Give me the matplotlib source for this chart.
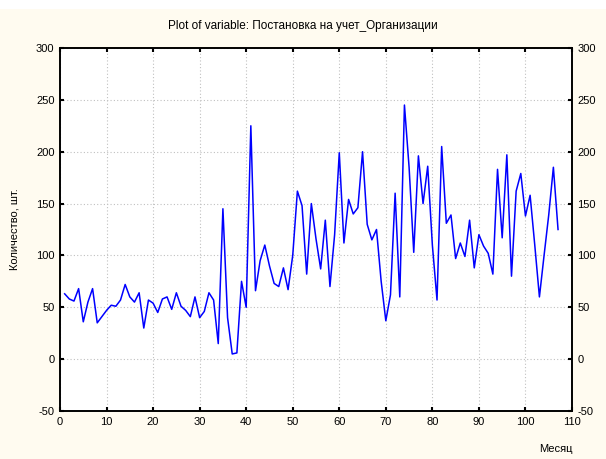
import numpy as np
import matplotlib
matplotlib.use("Agg")
import matplotlib.pyplot as plt
from matplotlib.patches import Rectangle

# monthly counts
months = list(range(1, 108))
counts = [63, 58, 56, 68, 36, 55, 68, 35, 41, 47,
          52, 51, 57, 72, 60, 55, 64, 30, 57, 54,
          45, 58, 60, 48, 64, 51, 47, 41, 60, 40,
          46, 64, 57, 15, 145, 40, 5, 6, 75, 50,
          225, 66, 95, 110, 90, 73, 70, 88, 67, 100,
          162, 148, 82, 150, 116, 87, 134, 70, 120, 199,
          112, 154, 140, 146, 200, 130, 115, 125, 75, 37,
          62, 160, 60, 245, 185, 103, 196, 150, 186, 110,
          57, 205, 131, 139, 97, 112, 99, 134, 88, 120,
          109, 102, 82, 183, 117, 197, 80, 162, 179, 138,
          158, 110, 60, 100, 139, 185, 125]

x_ticks = list(range(0, 111, 10))
y_ticks = list(range(-50, 301, 50))

title = "Plot of variable: Постановка на учет_Организации"
x_label = "Месяц"
y_label = "Количество, шт."

plt.rcParams['font.family'] = ['Liberation Sans', 'DejaVu Sans']
plt.rcParams['axes.unicode_minus'] = False

fig = plt.figure(figsize=(6.06, 4.59), dpi=100)
fig.patch.set_facecolor('#fffbf0')
# white strip along the top edge
fig.patches.append(Rectangle((0, 1 - 9 / 459), 1, 9 / 459, transform=fig.transFigure,
                             facecolor='white', edgecolor='none', zorder=0))

ax = fig.add_axes([60 / 606, 1 - 411 / 459, 512 / 606, 363 / 459])
ax.set_facecolor('white')
ax.plot(months, counts, color='#0000ff', linewidth=1.1)

ax.set_xlim(0, 110)
ax.set_ylim(-50, 300)
ax.set_xticks(x_ticks)
ax.set_yticks(y_ticks)
ax.grid(True, color='#c0c0c0', linestyle=(0, (1, 2)), linewidth=0.8)
ax.tick_params(direction='in', length=3, width=1.5, labelsize=8, top=True, pad=4)
for s in ax.spines.values():
    s.set_linewidth(1.2)

ax2 = ax.twinx()
ax2.set_ylim(-50, 300)
ax2.set_yticks(y_ticks)
ax2.tick_params(direction='in', length=3, width=1.5, labelsize=8, pad=4)
for s in ax2.spines.values():
    s.set_linewidth(1.2)

fig.text(0.5, 1 - 26 / 459, title, ha='center', va='center', fontsize=8.5)
fig.text(15 / 606, 0.5, y_label, ha='center', va='center', rotation=90, fontsize=8)
fig.text(556 / 606, 1 - 449 / 459, x_label, ha='center', va='center', fontsize=8)

fig.savefig("out.png", dpi=100, facecolor=fig.get_facecolor())
